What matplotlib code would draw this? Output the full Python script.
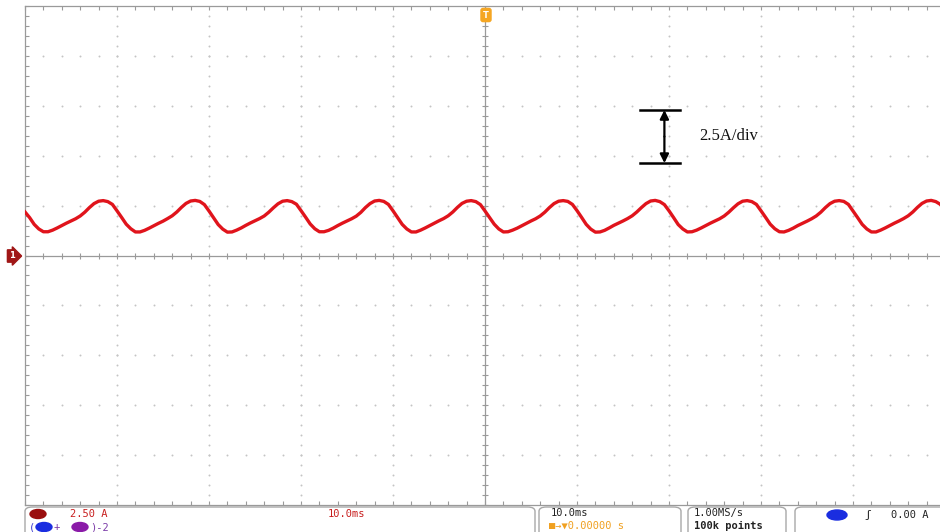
import numpy as np
import matplotlib
matplotlib.use("Agg")
import matplotlib.pyplot as plt
from matplotlib.patches import FancyBboxPatch, Ellipse

# scope capture: current trace, 10 ms/div, 2.5 A/div
time_ms = np.arange(-50, 50.01, 0.5)
current_a = [
    2.18, 1.90, 1.56, 1.33, 1.19, 1.19, 1.27, 1.38, 1.50, 1.62, 1.73, 1.84, 1.98, 2.17, 2.40, 2.60, 2.72, 2.75, 2.70, 2.56,
    2.24, 1.91, 1.57, 1.34, 1.18, 1.18, 1.26, 1.37, 1.49, 1.61, 1.72, 1.85, 1.99, 2.18, 2.41, 2.61, 2.73, 2.76, 2.71, 2.55,
    2.23, 1.89, 1.55, 1.32, 1.17, 1.18, 1.27, 1.38, 1.51, 1.63, 1.74, 1.85, 1.98, 2.17, 2.39, 2.59, 2.72, 2.75, 2.70, 2.57,
    2.25, 1.92, 1.58, 1.34, 1.19, 1.19, 1.26, 1.37, 1.50, 1.62, 1.73, 1.84, 1.97, 2.16, 2.40, 2.60, 2.73, 2.76, 2.71, 2.56,
    2.24, 1.90, 1.56, 1.33, 1.18, 1.18, 1.27, 1.38, 1.50, 1.62, 1.74, 1.85, 1.99, 2.18, 2.41, 2.61, 2.72, 2.75, 2.70, 2.55,
    2.23, 1.90, 1.57, 1.33, 1.18, 1.19, 1.27, 1.37, 1.49, 1.61, 1.73, 1.84, 1.98, 2.17, 2.40, 2.60, 2.72, 2.75, 2.71, 2.56,
    2.25, 1.91, 1.56, 1.32, 1.17, 1.18, 1.26, 1.38, 1.51, 1.62, 1.73, 1.85, 1.99, 2.18, 2.40, 2.60, 2.73, 2.76, 2.70, 2.55,
    2.24, 1.90, 1.55, 1.33, 1.18, 1.19, 1.27, 1.38, 1.50, 1.62, 1.73, 1.84, 1.98, 2.17, 2.39, 2.59, 2.72, 2.75, 2.70, 2.56,
    2.24, 1.91, 1.57, 1.34, 1.19, 1.18, 1.26, 1.37, 1.50, 1.61, 1.72, 1.84, 1.98, 2.17, 2.40, 2.60, 2.72, 2.75, 2.71, 2.56,
    2.23, 1.90, 1.56, 1.33, 1.18, 1.18, 1.27, 1.38, 1.50, 1.62, 1.73, 1.85, 1.99, 2.18, 2.41, 2.61, 2.73, 2.76, 2.70, 2.56,
    2.24,
]

x_divs = 10
y_divs = 10
ms_per_div = 10.0
a_per_div = 2.5

W, H = 940, 532
fig = plt.figure(figsize=(W / 100, H / 100), dpi=100)
fig.patch.set_facecolor("white")


def fx(px):
    return px / W


def fy(py):
    return 1 - py / H


# plot area in pixels: left 25, top 6, 92 px/div horizontally, ~50 px/div vertically
ax = fig.add_axes([fx(25), fy(505), 920 / W, 499 / H])
xmin, xmax = -x_divs / 2 * ms_per_div, x_divs / 2 * ms_per_div
ymin, ymax = -y_divs / 2 * a_per_div, y_divs / 2 * a_per_div
ax.set_xlim(xmin, xmax)
ax.set_ylim(ymin, ymax)

grid_col = "#c4c4c4"
axis_col = "#9a9a9a"

# dotted graticule
xmaj = np.linspace(xmin, xmax, x_divs + 1)
ymaj = np.linspace(ymin, ymax, y_divs + 1)
xmin_ticks = np.linspace(xmin, xmax, x_divs * 5 + 1)
ymin_ticks = np.linspace(ymin, ymax, y_divs * 5 + 1)
for yv in ymaj[1:-1]:
    if yv == 0:
        continue
    ax.plot(xmin_ticks, np.full_like(xmin_ticks, yv), ls="none", marker="o",
            ms=1.4, color=grid_col, mew=0)
for xv in xmaj[1:-1]:
    if xv == 0:
        continue
    ax.plot(np.full_like(ymin_ticks, xv), ymin_ticks, ls="none", marker="o",
            ms=1.4, color=grid_col, mew=0)

# centre cross with tick marks
ax.axhline(0, color=axis_col, lw=0.9)
ax.axvline(0, color=axis_col, lw=0.9)
ax.plot(xmin_ticks, np.zeros_like(xmin_ticks), ls="none", marker="|", ms=5,
        color=axis_col, mew=0.8)
ax.plot(np.zeros_like(ymin_ticks), ymin_ticks, ls="none", marker="_", ms=5,
        color=axis_col, mew=0.8)

# frame
for side in ["left", "bottom", "top", "right"]:
    ax.spines[side].set_color(axis_col)
    ax.spines[side].set_linewidth(0.9)
ax.set_xticks(xmin_ticks)
ax.set_yticks(ymin_ticks)
ax.tick_params(axis="both", which="both", direction="in", length=3, color=axis_col,
               labelbottom=False, labelleft=False, top=True, right=True)

# trace
ax.plot(time_ms, current_a, color="#e0141c", lw=2.4, solid_joinstyle="round", zorder=5)

# scale marker: 2.5A/div
y_top, y_bot, y_mid = 7.29, 4.63, 5.96
x_bar = 19.5
ax.plot([16.8, 21.2], [y_top, y_top], color="black", lw=1.8, zorder=6)
ax.plot([16.8, 21.2], [y_bot, y_bot], color="black", lw=1.8, zorder=6)
ax.annotate("", xy=(x_bar, y_top), xytext=(x_bar, y_mid),
            arrowprops=dict(arrowstyle="-|>", color="black", lw=1.6,
                            mutation_scale=13, shrinkA=0, shrinkB=0), zorder=6)
ax.annotate("", xy=(x_bar, y_bot), xytext=(x_bar, y_mid),
            arrowprops=dict(arrowstyle="-|>", color="black", lw=1.6,
                            mutation_scale=13, shrinkA=0, shrinkB=0), zorder=6)
ax.text(23.3, 6.0, "2.5A/div", family="Liberation Serif", fontsize=12,
        va="center", ha="left", color="#111111", zorder=6)

# trigger position marker and ground marker
fig.text(fx(486), fy(15), "T", ha="center", va="center", fontsize=6, color="white",
         fontweight="bold",
         bbox=dict(boxstyle="round,pad=0.25", fc="#f5a623", ec="#f5a623"))
fig.text(fx(12), fy(256), "1", ha="center", va="center", fontsize=6, color="white",
         fontweight="bold",
         bbox=dict(boxstyle="rarrow,pad=0.2", fc="#a01616", ec="#a01616"))

# status bar
mono = "DejaVu Sans Mono"
def box(x0, x1):
    p = FancyBboxPatch((fx(x0), fy(540)), fx(x1 - x0), (540 - 507) / H,
                       boxstyle="round,pad=0,rounding_size=0.008",
                       transform=fig.transFigure, fc="white", ec="#a8a8a8", lw=1.0)
    fig.patches.append(p)

box(25, 535)
box(539, 681)
box(688, 786)
box(795, 960)

def badge(x, y, col, w=16, h=9):
    e = Ellipse((fx(x), fy(y)), w / W, h / H, transform=fig.transFigure,
                fc=col, ec=col)
    fig.patches.append(e)

badge(38, 514, "#9a0e0e")
fig.text(fx(70), fy(514), "2.50 A", family=mono, fontsize=7.5, color="#c81e1e",
         va="center")
fig.text(fx(328), fy(514), "10.0ms", family=mono, fontsize=7.5, color="#c81e1e",
         va="center")
fig.text(fx(29), fy(527), "(", family=mono, fontsize=7.5, color="#3a3ad0", va="center")
badge(44, 527, "#1a2de0")
fig.text(fx(53), fy(527), "+", family=mono, fontsize=7.5, color="#7a3aa8", va="center")
badge(80, 527, "#8a1aa8")
fig.text(fx(90), fy(527), ")-2", family=mono, fontsize=7.5, color="#7a3aa8", va="center")

fig.text(fx(551), fy(513), "10.0ms", family=mono, fontsize=7.5, color="#222222",
         va="center")
fig.text(fx(549), fy(526), "\u25a0\u2192\u25bc0.00000 s", family=mono, fontsize=7.5,
         color="#f0a020", va="center")
fig.text(fx(694), fy(513), "1.00MS/s", family=mono, fontsize=7.5, color="#222222",
         va="center")
fig.text(fx(694), fy(526), "100k points", family=mono, fontsize=7.5, color="#222222",
         va="center", fontweight="bold")
badge(837, 515, "#1a2de0", w=20, h=10)
fig.text(fx(868), fy(515), "\u0283", family=mono, fontsize=8, color="#222222",
         va="center", ha="center")
fig.text(fx(891), fy(515), "0.00 A", family=mono, fontsize=7.5, color="#222222",
         va="center")

fig.savefig("out.png", dpi=100, facecolor="white")
